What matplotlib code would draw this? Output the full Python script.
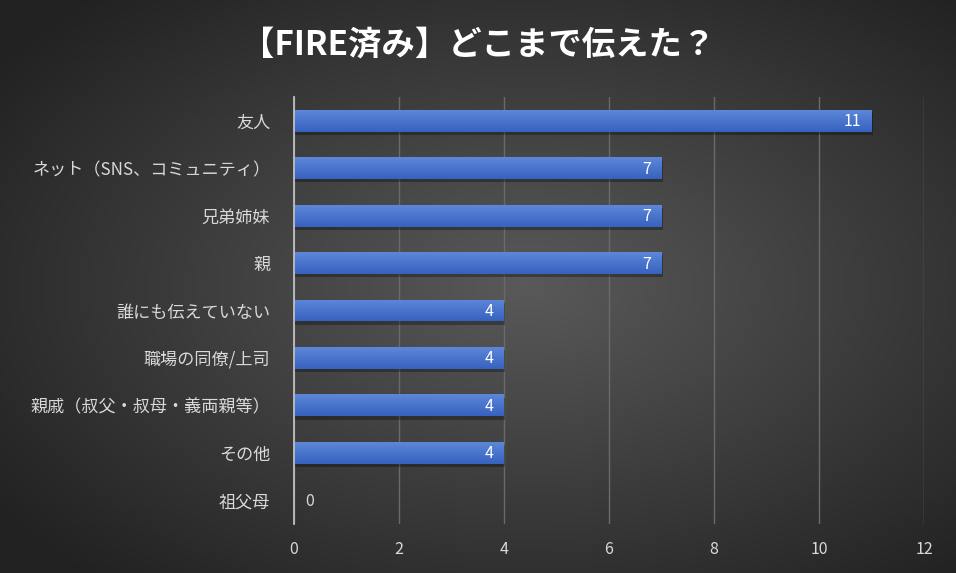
import numpy as np
import matplotlib.pyplot as plt

plt.rcParams['font.family'] = ['Noto Sans CJK JP', 'DejaVu Sans']

# Data
categories = ['友人', 'ネット（SNS、コミュニティ）', '兄弟姉妹', '親', '誰にも伝えていない',
              '職場の同僚/上司', '親戚（叔父・叔母・義両親等）', 'その他', '祖父母']
counts = [11, 7, 7, 7, 4, 4, 4, 4, 0]
x_ticks = [0, 2, 4, 6, 8, 10, 12]

fig = plt.figure(figsize=(9.56, 5.73), dpi=100)

# Radial gradient background
bg = fig.add_axes([0, 0, 1, 1], zorder=-10)
yy, xx = np.mgrid[0:1:300j, 0:1:500j]
r = np.sqrt(((xx - 0.55) / 0.75) ** 2 + ((yy - 0.5) / 0.75) ** 2)
shade = np.clip(0.35 - 0.24 * r, 0.13, 0.35)
bg.imshow(np.dstack([shade, shade, shade]), aspect='auto', extent=[0, 1, 0, 1], origin='lower')
bg.axis('off')

ax = fig.add_axes([294 / 956, 1 - 524 / 573, 630 / 956, 427 / 573])
ax.patch.set_alpha(0)

ypos = np.arange(len(categories))
bar_h = 0.46

# Shadow under bars
ax.barh(ypos + 0.07, counts, height=bar_h, left=0.02, color='black', alpha=0.3, zorder=2)
bars = ax.barh(ypos, counts, height=bar_h, color='#4472C4', zorder=3)

# Vertical gradient on each bar
grad = np.linspace(0, 1, 64).reshape(-1, 1)
top = np.array([0x5e, 0x87, 0xd9]) / 255
bot = np.array([0x36, 0x62, 0xc0]) / 255
img = top + (bot - top) * grad[..., None]
for b in bars:
    if b.get_width() <= 0:
        continue
    x0, y0 = b.get_x(), b.get_y()
    w, h = b.get_width(), b.get_height()
    im = ax.imshow(img, aspect='auto', extent=[x0, x0 + w, y0 + h, y0],
                   zorder=4, interpolation='bicubic')
    im.set_clip_path(b)

# Value labels
for y, v in zip(ypos, counts):
    if v > 0:
        ax.text(v - 0.2, y + 0.02, str(v), ha='right', va='center',
                color='white', fontsize=11.5, zorder=5)
    else:
        ax.text(0.22, y + 0.02, str(v), ha='left', va='center',
                color='#d9d9d9', fontsize=11.5, zorder=5)

ax.set_xlim(0, 12)
ax.set_ylim(len(categories) - 0.5, -0.5)
ax.set_xticks(x_ticks)
ax.set_yticks(ypos)
ax.set_yticklabels(categories)
ax.tick_params(axis='y', colors='#d9d9d9', labelsize=12.3, length=0, pad=17)
ax.tick_params(axis='x', colors='#d9d9d9', labelsize=11.5, length=0, pad=12)
ax.grid(axis='x', color='#6a6a6a', linewidth=1, zorder=0)
for s in ['top', 'right', 'bottom']:
    ax.spines[s].set_visible(False)
ax.spines['left'].set_color('#bfbfbf')
ax.spines['left'].set_linewidth(1.3)
ax.spines['left'].set_zorder(6)

fig.text(0.5, 1 - 45 / 573, '【FIRE済み】どこまで伝えた？', ha='center', va='center',
         color='white', fontsize=24, fontweight='bold')

fig.savefig('out.png', dpi=100)
